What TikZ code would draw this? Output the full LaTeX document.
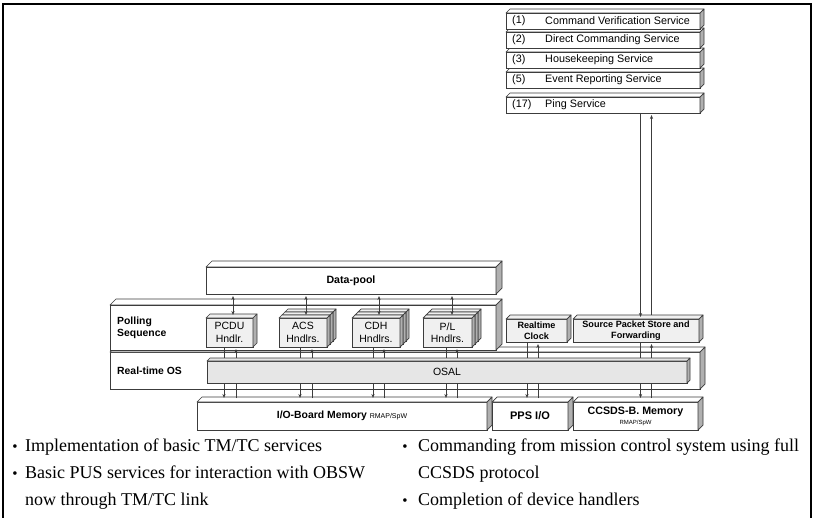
\documentclass[tikz,border=0pt]{standalone}
\usepackage{fontspec}
\setmainfont{Liberation Serif}
\setsansfont{Liberation Sans}
\usetikzlibrary{arrows.meta,calc}

\definecolor{edge}{HTML}{3C3C3C}
\definecolor{handfill}{HTML}{F0F0F0}
\definecolor{osalfill}{HTML}{E6E6E6}
\definecolor{sidegray}{HTML}{B0B0B0}

\tikzset{
  box/.style={draw=edge, line width=0.7pt, inner sep=0pt, outer sep=0pt,
    align=center, font=\sffamily},
  face/.style={draw=edge, line width=0.7pt, line join=round},
  sideface/.style={face, fill=sidegray},
  conn/.style={draw=edge, line width=0.7pt},
  tip/.style={-{Stealth[length=4pt,width=3.2pt]}},
  bothtips/.style={{Stealth[length=4pt,width=3.2pt]}-{Stealth[length=4pt,width=3.2pt]}},
  hndl/.style={font=\sffamily\fontsize{10.5}{12.5}\selectfont},
  small bold/.style={font=\sffamily\bfseries\fontsize{9.1}{10.8}\selectfont},
  lbl/.style={inner sep=0pt, align=left, font=\sffamily\bfseries\fontsize{10.4}{12.5}\selectfont},
  svc/.style={inner sep=0pt, anchor=west, font=\sffamily\fontsize{10.8}{12}\selectfont},
  item/.style={inner sep=0pt, anchor=base west, font=\fontsize{18}{27}\selectfont},
  bul/.style={inner sep=0pt, anchor=base, font=\fontsize{15}{15}\selectfont},
}

% 3D box: name, fill, x1, y1, x2, y2, depth, text, extra options
\newcommand\cube[9]{%
  \pgfmathsetmacro\cubew{#5-#3}%
  \pgfmathsetmacro\cubeh{#6-#4}%
  \pgfmathsetmacro\cubex{(#3+#5)/2}%
  \pgfmathsetmacro\cubey{(#4+#6)/2}%
  \node[box, fill=#2, minimum width=\cubew pt, minimum height=\cubeh pt, #9]
    (#1) at (\cubex,\cubey) {#8};
  \filldraw[face, fill=#2] (#1.north west) -- ++(#7,-#7)
    -- ($(#1.north east)+(#7,-#7)$) -- (#1.north east) -- cycle;
  \filldraw[sideface] (#1.north east) -- ++(#7,-#7)
    -- ($(#1.south east)+(#7,-#7)$) -- (#1.south east) -- cycle;
}

% pair of links between a block and the memory below it
\newcommand\updown[4]{%
  \coordinate (#1-dn) at ($(#1.south)+(#3,0)$);
  \coordinate (#1-up) at ($(#1.south)+(#4,0)$);
  \draw[conn,tip] (#1-dn) -- ($(#1-dn |- #2.north)+(0,-4)$);
  \draw[conn,tip] ($(#1-up |- #2.north)+(0,-4)$) -- ($(#1-up)+(0,2)$);
}

% data-pool access of a handler
\newcommand\dparrow[2]{%
  \coordinate (#1-top) at ($(#1.north)+(#2,-3)$);
  \draw[conn,bothtips] ($(#1-top |- dp.south)+(0,2)$) -- (#1-top);
}

\begin{document}
\begin{tikzpicture}[x=1pt,y=-1pt]
\useasboundingbox (0,0) rectangle (813,518);

% slide frame
\draw[line width=2pt] (3,518) -- (3,4) -- (811,4) -- (811,518);

% data pool
\cube{dp}{white}{206}{267}{496}{294}{6}{Data-pool}{font=\sffamily\bfseries\fontsize{10.6}{12}\selectfont}

% real-time OS and polling sequence layers
\cube{rtos}{white}{110}{352}{700}{389}{5}{}{}
\cube{poll}{white}{110}{305}{496}{350}{6}{}{}
\node[lbl, anchor=west] (pollLbl) at (117,328) {Polling\\Sequence};
\node[lbl, anchor=west] (rtLbl) at (117,371) {Real-time OS};

% device handlers
\cube{pcdu}{handfill}{206}{318}{253}{347}{4}{PCDU\\Hndlr.}{hndl}

\cube{acsC}{handfill}{285}{312}{333}{341}{3}{}{}
\cube{acsB}{handfill}{282}{315}{330}{344}{3}{}{}
\cube{acs}{handfill}{279}{318}{327}{347}{3}{ACS\\Hndlrs.}{hndl}

\cube{cdhC}{handfill}{358}{312}{406}{341}{3}{}{}
\cube{cdhB}{handfill}{355}{315}{403}{344}{3}{}{}
\cube{cdh}{handfill}{352}{318}{400}{347}{3}{CDH\\Hndlrs.}{hndl}

\cube{plC}{handfill}{429}{312}{478}{341}{3}{}{}
\cube{plB}{handfill}{426}{315}{475}{344}{3}{}{}
\cube{pl}{handfill}{423}{318}{472}{347}{3}{P/L\\Hndlrs.}{hndl}

% clock and packet store
\cube{clk}{handfill}{506}{319}{567}{342}{4}{Realtime\\Clock}{small bold}
\cube{sps}{handfill}{573}{319}{699}{342}{4}{Source Packet Store and\\Forwarding}{small bold}

% PUS services
\cube{s5}{white}{506}{97}{700}{113}{4}{}{}
\cube{s4}{white}{506}{72}{700}{88}{4}{}{}
\cube{s3}{white}{506}{52}{700}{68}{4}{}{}
\cube{s2}{white}{506}{32}{700}{48}{4}{}{}
\cube{s1}{white}{506}{13}{700}{29}{4}{}{}
\foreach \s/\n/\t in {s1/(1)/Command Verification Service,
                      s2/(2)/Direct Commanding Service,
                      s3/(3)/Housekeeping Service,
                      s4/(5)/Event Reporting Service,
                      s5/(17)/Ping Service}{
  \node[svc] (\s-num) at ($(\s.west)+(6,0)$) {\n};
  \node[svc] (\s-txt) at ($(\s.west)+(39,0)$) {\t};
}

% memories
\cube{io}{white}{197}{402}{487}{430}{5}{{\fontsize{10.4}{12}\selectfont\bfseries I/O-Board Memory} {\fontsize{7}{8}\selectfont RMAP/SpW}}{}
\cube{pps}{white}{492}{402}{568}{430}{5}{PPS I/O}{font=\sffamily\bfseries\fontsize{11}{12}\selectfont}
\cube{ccsds}{white}{573}{402}{698}{430}{5}{{\fontsize{10.7}{12}\selectfont\bfseries CCSDS-B. Memory}\\[-2pt]{\fontsize{6}{7}\selectfont RMAP/SpW}}{}

% links down to the memories (they run behind the OSAL)
\updown{pcdu}{io}{-5.5}{6.5}
\updown{acs}{io}{-3}{9}
\updown{cdh}{io}{-3}{8}
\updown{pl}{io}{-1.5}{9.5}
\updown{clk}{pps}{-9.5}{1.5}
\updown{sps}{ccsds}{4.5}{15.5}

% ping service to packet store
\draw[conn,tip] (sps-dn |- s5.south) -- ($(sps-dn |- sps.north)+(0,-2)$);
\draw[conn,tip] ($(sps-up |- sps.north)+(0,-4)$) -- ($(sps-up |- s5.south)+(0,2)$);

% OS abstraction layer
\cube{osal}{osalfill}{207}{361}{687}{383}{3}{OSAL}{font=\sffamily\fontsize{10.5}{12}\selectfont}

% data-pool access
\dparrow{pcdu}{3.5}
\dparrow{acs}{3}
\dparrow{cdh}{3}
\dparrow{pl}{4.5}

% notes
\node[bul] (b1) at (15,451) {\textbullet};
\node[item] (i1) at (25,451) {Implementation of basic TM/TC services};
\node[bul] (b2) at (15,478) {\textbullet};
\node[item] (i2) at (25,478) {Basic PUS services for interaction with OBSW};
\node[item] (i2b) at (25,505) {now through TM/TC link};
\node[bul] (b3) at (405,451) {\textbullet};
\node[item] (i3) at (418,451) {Commanding from mission control system using full};
\node[item] (i3b) at (418,478) {CCSDS protocol};
\node[bul] (b4) at (405,505) {\textbullet};
\node[item] (i4) at (418,505) {Completion of device handlers};
\end{tikzpicture}
\end{document}
